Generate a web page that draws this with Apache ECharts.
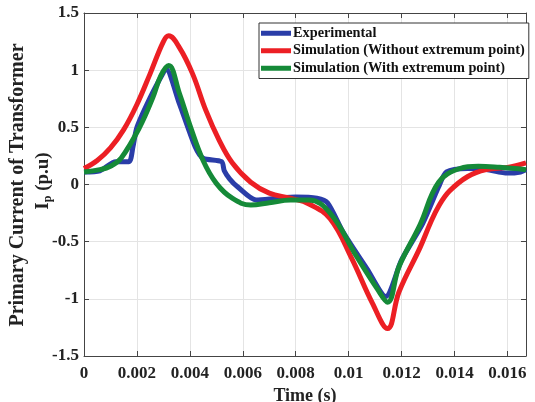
<!DOCTYPE html>
<html>
<head>
<meta charset="utf-8">
<script src="https://cdn.jsdelivr.net/npm/echarts@6/dist/echarts.min.js"></script>
<style>html,body{margin:0;padding:0;background:#fff}#c{width:535px;height:402px}</style>
</head>
<body>
<div id="c"></div>
<script>
// ---- data ----
var seriesNames = ['Experimental', 'Simulation (Without extremum point)', 'Simulation (With extremum point)'];
var xTitle = 'Time (s)';
var yTitleLine1 = 'Primary Current of Transformer';

var expTime = [0,0.0006,0.0012,0.0017,0.00185,0.002,0.0025,0.003,0.0031,0.0036,0.0042,0.0045,0.0052,0.0053,0.0055,0.0058,0.0065,0.0073,0.008,0.0088,0.0092,0.0098,0.0107,0.0114,0.012,0.0128,0.0134,0.0137,0.0145,0.0152,0.016,0.0165,0.0167];
var expVal  = [0.11,0.12,0.20,0.20,0.33,0.50,0.76,0.98,1.01,0.71,0.33,0.23,0.20,0.12,0.05,-0.02,-0.135,-0.12,-0.11,-0.12,-0.16,-0.42,-0.74,-0.98,-0.66,-0.34,-0.02,0.11,0.14,0.13,0.10,0.11,0.13];

var woTime = [0,0.0005,0.001,0.0015,0.002,0.0025,0.003,0.0032,0.0036,0.0041,0.0046,0.0051,0.0056,0.0063,0.007,0.0078,0.0085,0.0093,0.0101,0.0109,0.01147,0.0119,0.0127,0.0131,0.0134,0.0138,0.0145,0.0152,0.016,0.0167];
var woVal  = [0.14,0.21,0.32,0.48,0.70,0.97,1.25,1.30,1.20,0.97,0.65,0.39,0.19,0.02,-0.075,-0.12,-0.17,-0.30,-0.64,-1.04,-1.26,-0.94,-0.55,-0.33,-0.19,-0.06,0.07,0.13,0.15,0.19];

var wTime = [0,0.0006,0.001,0.0014,0.0021,0.0026,0.0029,0.0032,0.0036,0.004,0.0045,0.005,0.0056,0.0063,0.007,0.0078,0.0085,0.0093,0.0103,0.0111,0.01147,0.0119,0.0127,0.0134,0.0142,0.0149,0.0157,0.0167];
var wVal  = [0.11,0.13,0.16,0.23,0.50,0.76,0.95,1.04,0.80,0.52,0.21,0.01,-0.12,-0.18,-0.16,-0.135,-0.135,-0.25,-0.63,-0.92,-1.03,-0.72,-0.35,0.02,0.14,0.16,0.15,0.13];

var xMin = 0, xMax = 0.0167, xStep = 0.002;
var yMin = -1.5, yMax = 1.5, yStep = 0.5;

function pairs(t, v) { return t.map(function (x, i) { return [x, v[i]]; }); }

var FONT = "'Liberation Serif', 'Times New Roman', serif";
var colors = ['#2a3da8', '#ec1f24', '#158a38'];

var chart = echarts.init(document.getElementById('c'), null, {renderer: 'canvas'});
var axisLineStyle = {color: '#444', width: 1};
var option = {
  animation: false,
  backgroundColor: '#fff',
  grid: {left: 84, top: 13, right: 9, bottom: 46, show: false, containLabel: false, outerBoundsMode: 'none'},
  legend: {
    orient: 'vertical',
    left: 259, top: 23,
    padding: [3, 4, 3, 2],
    itemGap: 3,
    itemWidth: 30, itemHeight: 5,
    icon: 'rect',
    backgroundColor: '#fff',
    borderColor: '#333', borderWidth: 1, borderRadius: 0,
    textStyle: {fontFamily: FONT, fontWeight: 'bold', fontSize: 14.3, color: '#111', padding: [0,0,0,-3], lineHeight: 14.5},
    data: seriesNames
  },
  xAxis: [{
    type: 'value', min: xMin, max: xMax, interval: xStep,
    axisLine: {show: true, onZero: false, lineStyle: axisLineStyle},
    axisTick: {show: true, inside: true, length: 5, lineStyle: axisLineStyle},
    axisLabel: {fontFamily: FONT, fontWeight: 'bold', fontSize: 17, color: '#222', margin: 9, showMaxLabel: false},
    splitLine: {show: true, lineStyle: {color: '#e4e4e4', width: 1}},
    name: xTitle, nameLocation: 'middle', nameGap: 30,
    nameTextStyle: {fontFamily: FONT, fontWeight: 'bold', fontSize: 18, color: '#222'}
  }, {
    type: 'value', position: 'top', min: xMin, max: xMax, interval: xStep,
    axisLine: {show: true, onZero: false, lineStyle: axisLineStyle},
    axisTick: {show: true, inside: true, length: 5, lineStyle: axisLineStyle},
    axisLabel: {show: false}, splitLine: {show: false}
  }],
  yAxis: [{
    type: 'value', min: yMin, max: yMax, interval: yStep,
    axisLine: {show: true, onZero: false, lineStyle: axisLineStyle},
    axisTick: {show: true, inside: true, length: 5, lineStyle: axisLineStyle},
    axisLabel: {fontFamily: FONT, fontWeight: 'bold', fontSize: 17, color: '#222', margin: 5},
    splitLine: {show: true, lineStyle: {color: '#e4e4e4', width: 1}}
  }, {
    type: 'value', position: 'right', min: yMin, max: yMax, interval: yStep,
    axisLine: {show: true, onZero: false, lineStyle: axisLineStyle},
    axisTick: {show: true, inside: true, length: 5, lineStyle: axisLineStyle},
    axisLabel: {show: false}, splitLine: {show: false}
  }],
  graphic: [
    {type: 'text', x: 18, y: 185, rotation: Math.PI / 2,
     style: {text: yTitleLine1, font: "bold 20px " + FONT, fill: '#222', align: 'center', verticalAlign: 'middle'}},
    {type: 'text', x: 43, y: 181, rotation: Math.PI / 2,
     style: {text: '{i|I}{s|p}{i| (p.u)}', align: 'center', verticalAlign: 'middle',
       rich: {i: {font: "bold 19px " + FONT, fill: '#222'}, s: {font: "bold 12px " + FONT, fill: '#222', padding: [9, 0, 0, 0]}}}}
  ],
  series: [
    {name: seriesNames[0], type: 'line', data: pairs(expTime, expVal), smooth: 0.25, showSymbol: false, lineStyle: {width: 5, color: colors[0]}, itemStyle: {color: colors[0]}, z: 2},
    {name: seriesNames[1], type: 'line', data: pairs(woTime, woVal), smooth: 0.4, showSymbol: false, lineStyle: {width: 5, color: colors[1]}, itemStyle: {color: colors[1]}, z: 3},
    {name: seriesNames[2], type: 'line', data: pairs(wTime, wVal), smooth: 0.4, showSymbol: false, lineStyle: {width: 5, color: colors[2]}, itemStyle: {color: colors[2]}, z: 4}
  ]
};
chart.setOption(option);
</script>
</body>
</html>
